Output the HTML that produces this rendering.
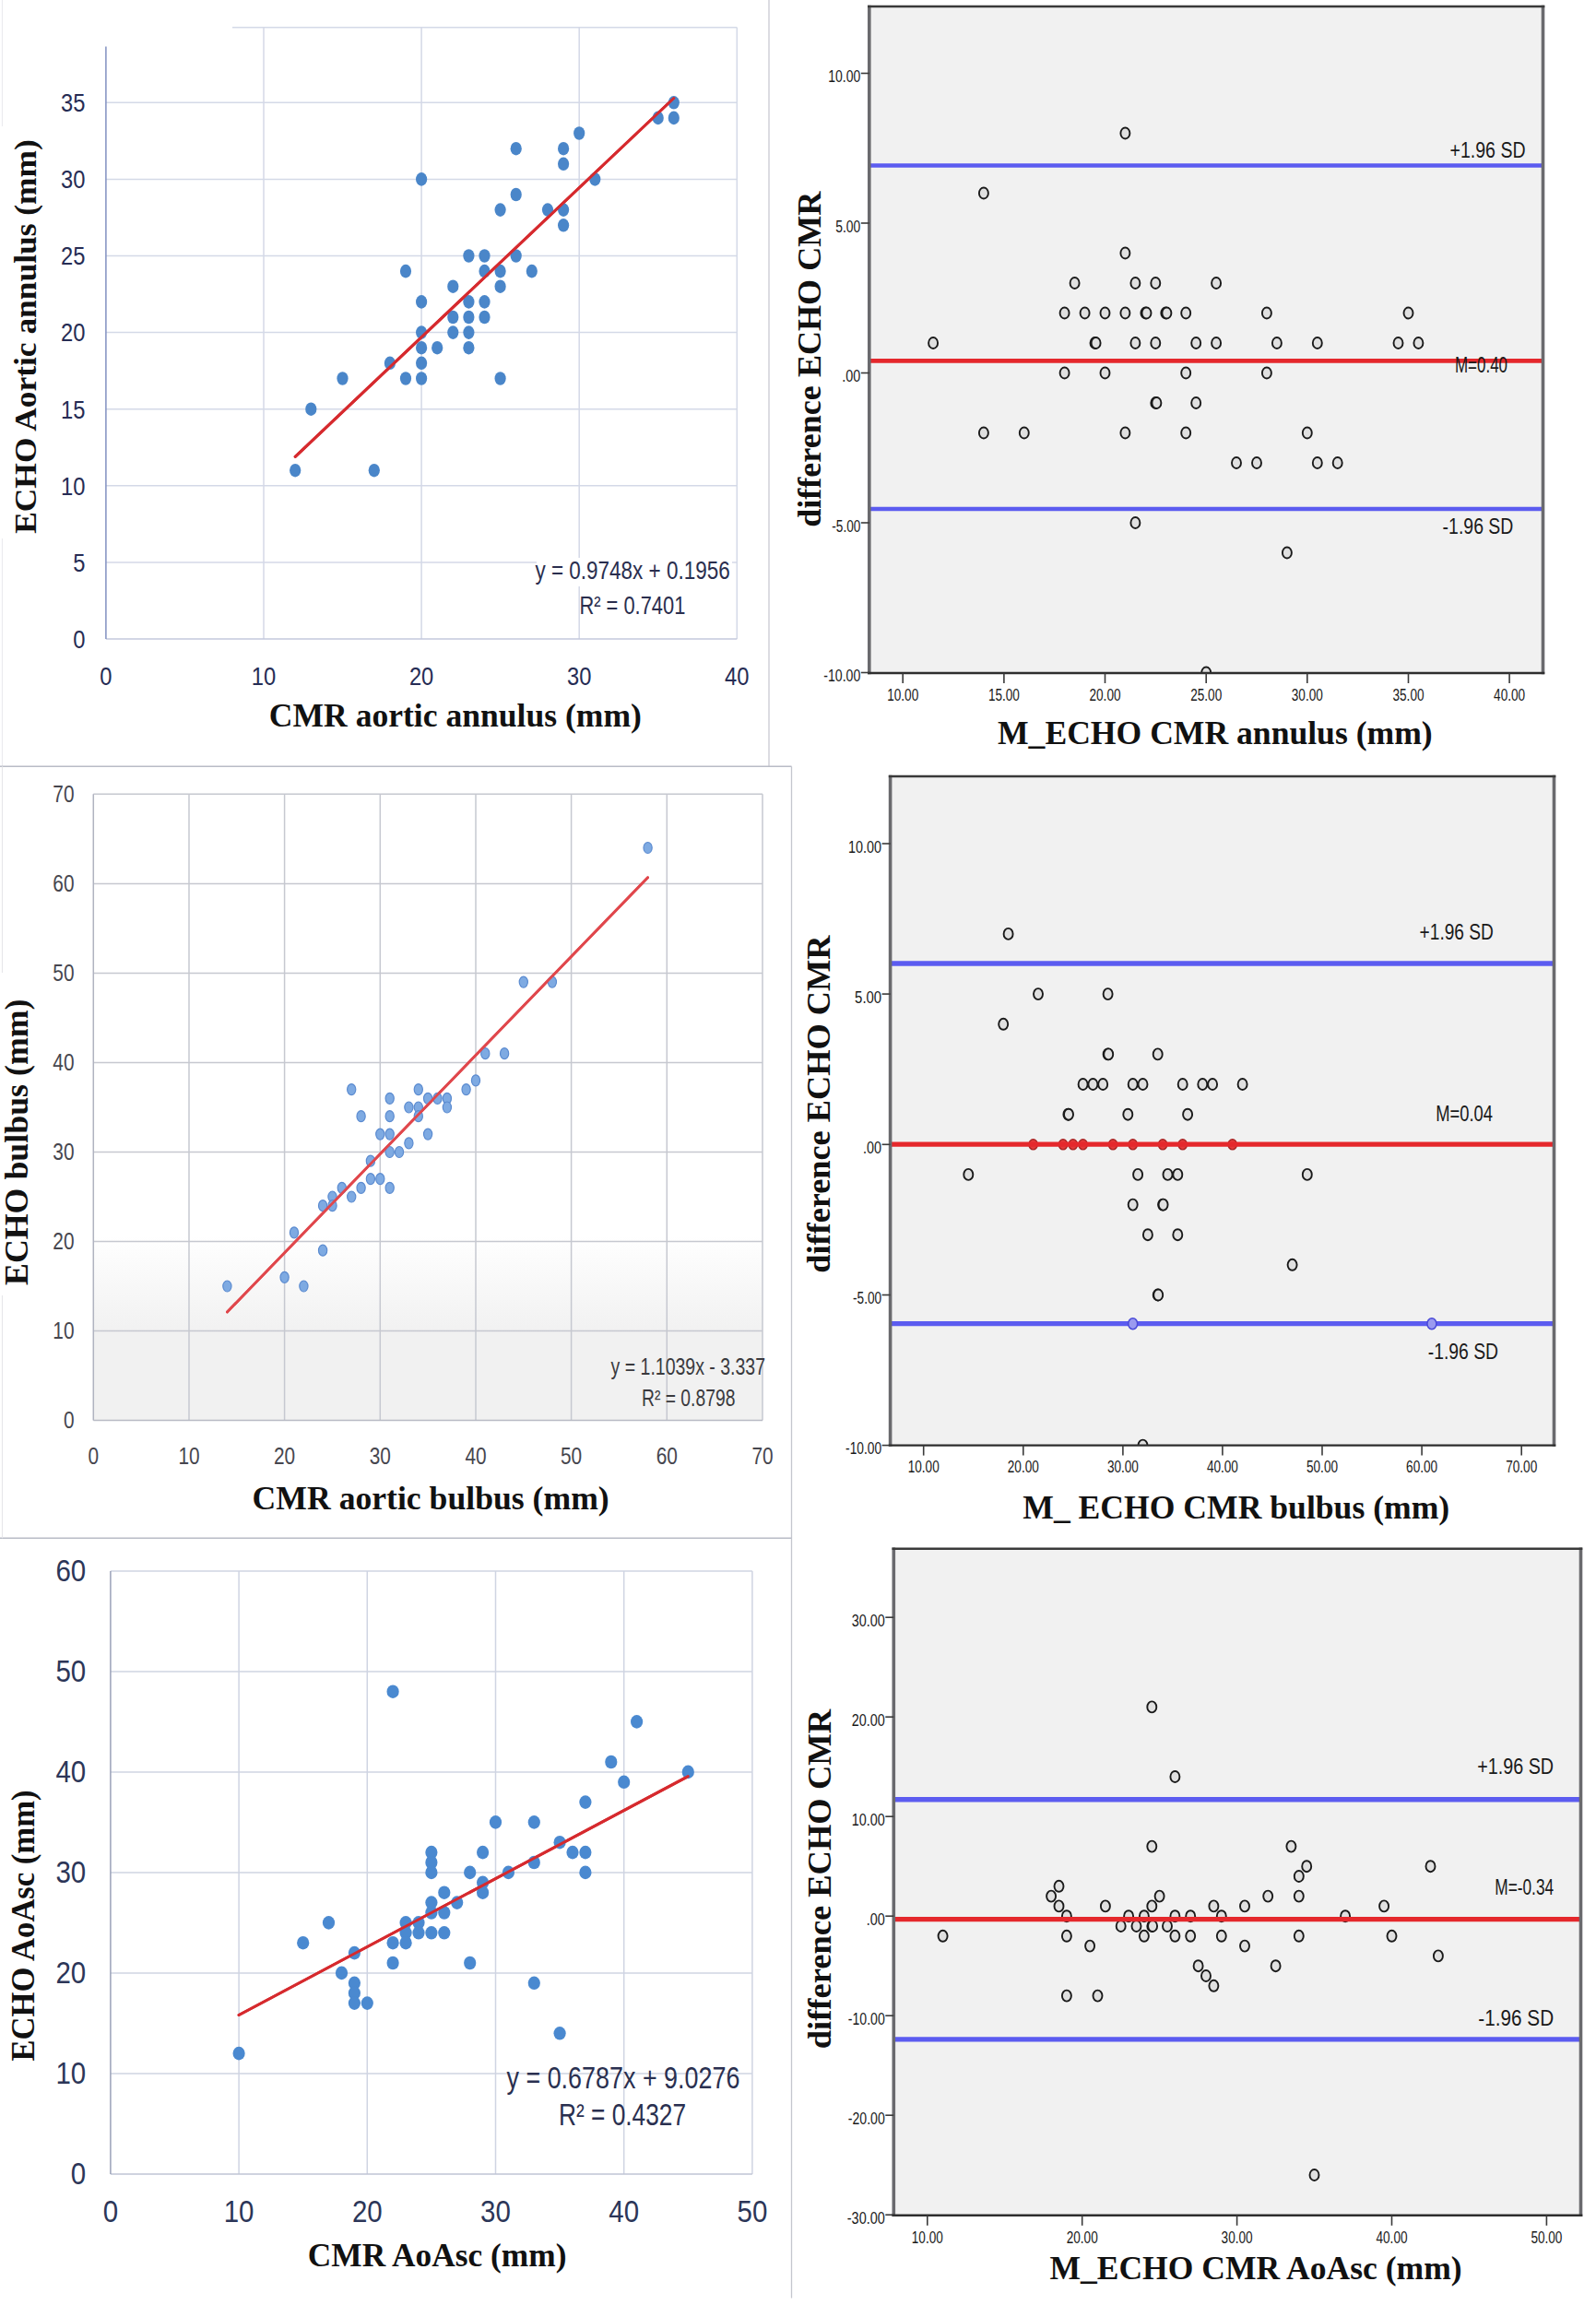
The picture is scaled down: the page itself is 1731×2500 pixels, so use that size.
<!DOCTYPE html>
<html lang="en"><head><meta charset="utf-8"><title>ECHO vs CMR aortic measurements</title>
<style>html,body{margin:0;padding:0;background:#fff;}svg{display:block;}</style></head>
<body>
<svg width="1731" height="2500" viewBox="0 0 1731 2500">
<rect x="0" y="0" width="1731" height="2500" fill="#ffffff"/>
<defs><linearGradient id="gC" gradientUnits="userSpaceOnUse" x1="0" y1="1340" x2="0" y2="1446"><stop offset="0" stop-color="#ffffff"/><stop offset="1" stop-color="#f1f1f1"/></linearGradient></defs>
<line x1="834" y1="0" x2="834" y2="831.3" stroke="#c9cad2" stroke-width="1.3"/>
<line x1="2.5" y1="0" x2="2.5" y2="137" stroke="#ebebef" stroke-width="1.2"/>
<line x1="2.5" y1="584" x2="2.5" y2="831" stroke="#ebebef" stroke-width="1.2"/>
<line x1="0" y1="831.3" x2="858.5" y2="831.3" stroke="#b9bcc6" stroke-width="1.6"/>
<line x1="858.5" y1="831.3" x2="858.5" y2="2492.5" stroke="#c4c6ce" stroke-width="1.3"/>
<line x1="0" y1="1668.3" x2="858.5" y2="1668.3" stroke="#b9bcc6" stroke-width="1.6"/>
<line x1="2.5" y1="831.3" x2="2.5" y2="1055" stroke="#e6e6ea" stroke-width="1.2"/>
<line x1="2.5" y1="1405" x2="2.5" y2="1668.3" stroke="#e6e6ea" stroke-width="1.2"/>
<line x1="114.9" y1="609.9" x2="799.3" y2="609.9" stroke="#d4d9e7" stroke-width="1.5"/>
<line x1="114.9" y1="526.8" x2="799.3" y2="526.8" stroke="#d4d9e7" stroke-width="1.5"/>
<line x1="114.9" y1="443.7" x2="799.3" y2="443.7" stroke="#d4d9e7" stroke-width="1.5"/>
<line x1="114.9" y1="360.6" x2="799.3" y2="360.6" stroke="#d4d9e7" stroke-width="1.5"/>
<line x1="114.9" y1="277.5" x2="799.3" y2="277.5" stroke="#d4d9e7" stroke-width="1.5"/>
<line x1="114.9" y1="194.4" x2="799.3" y2="194.4" stroke="#d4d9e7" stroke-width="1.5"/>
<line x1="114.9" y1="111.3" x2="799.3" y2="111.3" stroke="#d4d9e7" stroke-width="1.5"/>
<line x1="252" y1="29.7" x2="799.3" y2="29.7" stroke="#d4d9e7" stroke-width="1.5"/>
<line x1="286" y1="29.7" x2="286" y2="693" stroke="#d4d9e7" stroke-width="1.5"/>
<line x1="457.1" y1="29.7" x2="457.1" y2="693" stroke="#d4d9e7" stroke-width="1.5"/>
<line x1="628.2" y1="29.7" x2="628.2" y2="693" stroke="#d4d9e7" stroke-width="1.5"/>
<line x1="799.3" y1="29.7" x2="799.3" y2="693" stroke="#d4d9e7" stroke-width="1.5"/>
<line x1="114.9" y1="693" x2="799.3" y2="693" stroke="#c3c8dc" stroke-width="1.5"/>
<line x1="114.9" y1="50.4" x2="114.9" y2="693" stroke="#8190c0" stroke-width="1.5"/>
<text x="92.5" y="702.8" font-family="'Liberation Sans', Arial, sans-serif" font-size="27.5" fill="#262c54" text-anchor="end" font-weight="normal" textLength="13.2" lengthAdjust="spacingAndGlyphs">0</text>
<text x="92.5" y="619.7" font-family="'Liberation Sans', Arial, sans-serif" font-size="27.5" fill="#262c54" text-anchor="end" font-weight="normal" textLength="13.2" lengthAdjust="spacingAndGlyphs">5</text>
<text x="92.5" y="536.6" font-family="'Liberation Sans', Arial, sans-serif" font-size="27.5" fill="#262c54" text-anchor="end" font-weight="normal" textLength="26.4" lengthAdjust="spacingAndGlyphs">10</text>
<text x="92.5" y="453.5" font-family="'Liberation Sans', Arial, sans-serif" font-size="27.5" fill="#262c54" text-anchor="end" font-weight="normal" textLength="26.4" lengthAdjust="spacingAndGlyphs">15</text>
<text x="92.5" y="370.4" font-family="'Liberation Sans', Arial, sans-serif" font-size="27.5" fill="#262c54" text-anchor="end" font-weight="normal" textLength="26.4" lengthAdjust="spacingAndGlyphs">20</text>
<text x="92.5" y="287.3" font-family="'Liberation Sans', Arial, sans-serif" font-size="27.5" fill="#262c54" text-anchor="end" font-weight="normal" textLength="26.4" lengthAdjust="spacingAndGlyphs">25</text>
<text x="92.5" y="204.2" font-family="'Liberation Sans', Arial, sans-serif" font-size="27.5" fill="#262c54" text-anchor="end" font-weight="normal" textLength="26.4" lengthAdjust="spacingAndGlyphs">30</text>
<text x="92.5" y="121.1" font-family="'Liberation Sans', Arial, sans-serif" font-size="27.5" fill="#262c54" text-anchor="end" font-weight="normal" textLength="26.4" lengthAdjust="spacingAndGlyphs">35</text>
<text x="114.9" y="743.3" font-family="'Liberation Sans', Arial, sans-serif" font-size="27.5" fill="#262c54" text-anchor="middle" font-weight="normal" textLength="13.2" lengthAdjust="spacingAndGlyphs">0</text>
<text x="286" y="743.3" font-family="'Liberation Sans', Arial, sans-serif" font-size="27.5" fill="#262c54" text-anchor="middle" font-weight="normal" textLength="26.4" lengthAdjust="spacingAndGlyphs">10</text>
<text x="457.1" y="743.3" font-family="'Liberation Sans', Arial, sans-serif" font-size="27.5" fill="#262c54" text-anchor="middle" font-weight="normal" textLength="26.4" lengthAdjust="spacingAndGlyphs">20</text>
<text x="628.2" y="743.3" font-family="'Liberation Sans', Arial, sans-serif" font-size="27.5" fill="#262c54" text-anchor="middle" font-weight="normal" textLength="26.4" lengthAdjust="spacingAndGlyphs">30</text>
<text x="799.3" y="743.3" font-family="'Liberation Sans', Arial, sans-serif" font-size="27.5" fill="#262c54" text-anchor="middle" font-weight="normal" textLength="26.4" lengthAdjust="spacingAndGlyphs">40</text>
<line x1="320.2" y1="495.3" x2="730.8" y2="106.5" stroke="#d62a2e" stroke-width="3" stroke-linecap="round"/>
<ellipse cx="320.2" cy="510.2" rx="6.1" ry="7.3" fill="#4a86c9" stroke="none" stroke-width="0"/>
<ellipse cx="337.3" cy="443.7" rx="6.1" ry="7.3" fill="#4a86c9" stroke="none" stroke-width="0"/>
<ellipse cx="371.5" cy="410.5" rx="6.1" ry="7.3" fill="#4a86c9" stroke="none" stroke-width="0"/>
<ellipse cx="405.8" cy="510.2" rx="6.1" ry="7.3" fill="#4a86c9" stroke="none" stroke-width="0"/>
<ellipse cx="422.9" cy="393.8" rx="6.1" ry="7.3" fill="#4a86c9" stroke="none" stroke-width="0"/>
<ellipse cx="440" cy="410.5" rx="6.1" ry="7.3" fill="#4a86c9" stroke="none" stroke-width="0"/>
<ellipse cx="440" cy="294.1" rx="6.1" ry="7.3" fill="#4a86c9" stroke="none" stroke-width="0"/>
<ellipse cx="457.1" cy="194.4" rx="6.1" ry="7.3" fill="#4a86c9" stroke="none" stroke-width="0"/>
<ellipse cx="457.1" cy="327.4" rx="6.1" ry="7.3" fill="#4a86c9" stroke="none" stroke-width="0"/>
<ellipse cx="457.1" cy="360.6" rx="6.1" ry="7.3" fill="#4a86c9" stroke="none" stroke-width="0"/>
<ellipse cx="457.1" cy="377.2" rx="6.1" ry="7.3" fill="#4a86c9" stroke="none" stroke-width="0"/>
<ellipse cx="457.1" cy="393.8" rx="6.1" ry="7.3" fill="#4a86c9" stroke="none" stroke-width="0"/>
<ellipse cx="457.1" cy="410.5" rx="6.1" ry="7.3" fill="#4a86c9" stroke="none" stroke-width="0"/>
<ellipse cx="474.2" cy="377.2" rx="6.1" ry="7.3" fill="#4a86c9" stroke="none" stroke-width="0"/>
<ellipse cx="491.3" cy="310.7" rx="6.1" ry="7.3" fill="#4a86c9" stroke="none" stroke-width="0"/>
<ellipse cx="491.3" cy="344" rx="6.1" ry="7.3" fill="#4a86c9" stroke="none" stroke-width="0"/>
<ellipse cx="491.3" cy="360.6" rx="6.1" ry="7.3" fill="#4a86c9" stroke="none" stroke-width="0"/>
<ellipse cx="508.4" cy="277.5" rx="6.1" ry="7.3" fill="#4a86c9" stroke="none" stroke-width="0"/>
<ellipse cx="508.4" cy="327.4" rx="6.1" ry="7.3" fill="#4a86c9" stroke="none" stroke-width="0"/>
<ellipse cx="508.4" cy="344" rx="6.1" ry="7.3" fill="#4a86c9" stroke="none" stroke-width="0"/>
<ellipse cx="508.4" cy="360.6" rx="6.1" ry="7.3" fill="#4a86c9" stroke="none" stroke-width="0"/>
<ellipse cx="508.4" cy="377.2" rx="6.1" ry="7.3" fill="#4a86c9" stroke="none" stroke-width="0"/>
<ellipse cx="525.5" cy="277.5" rx="6.1" ry="7.3" fill="#4a86c9" stroke="none" stroke-width="0"/>
<ellipse cx="525.5" cy="294.1" rx="6.1" ry="7.3" fill="#4a86c9" stroke="none" stroke-width="0"/>
<ellipse cx="525.5" cy="327.4" rx="6.1" ry="7.3" fill="#4a86c9" stroke="none" stroke-width="0"/>
<ellipse cx="525.5" cy="344" rx="6.1" ry="7.3" fill="#4a86c9" stroke="none" stroke-width="0"/>
<ellipse cx="542.6" cy="227.6" rx="6.1" ry="7.3" fill="#4a86c9" stroke="none" stroke-width="0"/>
<ellipse cx="542.6" cy="294.1" rx="6.1" ry="7.3" fill="#4a86c9" stroke="none" stroke-width="0"/>
<ellipse cx="542.6" cy="310.7" rx="6.1" ry="7.3" fill="#4a86c9" stroke="none" stroke-width="0"/>
<ellipse cx="542.6" cy="410.5" rx="6.1" ry="7.3" fill="#4a86c9" stroke="none" stroke-width="0"/>
<ellipse cx="559.7" cy="161.2" rx="6.1" ry="7.3" fill="#4a86c9" stroke="none" stroke-width="0"/>
<ellipse cx="559.7" cy="211" rx="6.1" ry="7.3" fill="#4a86c9" stroke="none" stroke-width="0"/>
<ellipse cx="559.7" cy="277.5" rx="6.1" ry="7.3" fill="#4a86c9" stroke="none" stroke-width="0"/>
<ellipse cx="576.8" cy="294.1" rx="6.1" ry="7.3" fill="#4a86c9" stroke="none" stroke-width="0"/>
<ellipse cx="594" cy="227.6" rx="6.1" ry="7.3" fill="#4a86c9" stroke="none" stroke-width="0"/>
<ellipse cx="611.1" cy="161.2" rx="6.1" ry="7.3" fill="#4a86c9" stroke="none" stroke-width="0"/>
<ellipse cx="611.1" cy="177.8" rx="6.1" ry="7.3" fill="#4a86c9" stroke="none" stroke-width="0"/>
<ellipse cx="611.1" cy="227.6" rx="6.1" ry="7.3" fill="#4a86c9" stroke="none" stroke-width="0"/>
<ellipse cx="611.1" cy="244.3" rx="6.1" ry="7.3" fill="#4a86c9" stroke="none" stroke-width="0"/>
<ellipse cx="628.2" cy="144.5" rx="6.1" ry="7.3" fill="#4a86c9" stroke="none" stroke-width="0"/>
<ellipse cx="645.3" cy="194.4" rx="6.1" ry="7.3" fill="#4a86c9" stroke="none" stroke-width="0"/>
<ellipse cx="713.7" cy="127.9" rx="6.1" ry="7.3" fill="#4a86c9" stroke="none" stroke-width="0"/>
<ellipse cx="730.8" cy="111.3" rx="6.1" ry="7.3" fill="#4a86c9" stroke="none" stroke-width="0"/>
<ellipse cx="730.8" cy="127.9" rx="6.1" ry="7.3" fill="#4a86c9" stroke="none" stroke-width="0"/>
<line x1="320.2" y1="495.3" x2="730.8" y2="106.5" stroke="#d62a2e" stroke-width="3" stroke-linecap="round"/>
<rect x="582" y="605" width="212" height="31" fill="#fff"/>
<text x="580.4" y="628.3" font-family="'Liberation Sans', Arial, sans-serif" font-size="27" fill="#2a2e4e" text-anchor="start" font-weight="normal" textLength="211.3" lengthAdjust="spacingAndGlyphs">y = 0.9748x + 0.1956</text>
<text x="628.4" y="665.8" font-family="'Liberation Sans', Arial, sans-serif" font-size="27" fill="#2a2e4e" text-anchor="start" font-weight="normal" textLength="114.9" lengthAdjust="spacingAndGlyphs">R² = 0.7401</text>
<text x="291.8" y="788.3" font-family="'Liberation Serif', 'Times New Roman', serif" font-size="35.5" fill="#111" text-anchor="start" font-weight="bold" textLength="404.1" lengthAdjust="spacingAndGlyphs">CMR aortic annulus (mm)</text>
<text transform="translate(38.7 578.8) rotate(-90)" x="0" y="0" font-family="'Liberation Serif', 'Times New Roman', serif" font-size="34" fill="#111" font-weight="bold" textLength="427.6" lengthAdjust="spacingAndGlyphs">ECHO Aortic annulus (mm)</text>
<rect x="942.8" y="7" width="730.7" height="723" fill="#f1f1f1" stroke="none"/>
<clipPath id="cB"><rect x="942.8" y="7" width="730.7" height="723"/></clipPath>
<g clip-path="url(#cB)">
<ellipse cx="1220.4" cy="144.5" rx="5" ry="6" fill="#e0e0e0" stroke="#1a1a1a" stroke-width="1.9"/>
<ellipse cx="1066.9" cy="209.5" rx="5" ry="6" fill="#e0e0e0" stroke="#1a1a1a" stroke-width="1.9"/>
<ellipse cx="1220.4" cy="274.5" rx="5" ry="6" fill="#e0e0e0" stroke="#1a1a1a" stroke-width="1.9"/>
<ellipse cx="1165.6" cy="307" rx="5" ry="6" fill="#e0e0e0" stroke="#1a1a1a" stroke-width="1.9"/>
<ellipse cx="1231.4" cy="307" rx="5" ry="6" fill="#e0e0e0" stroke="#1a1a1a" stroke-width="1.9"/>
<ellipse cx="1253.3" cy="307" rx="5" ry="6" fill="#e0e0e0" stroke="#1a1a1a" stroke-width="1.9"/>
<ellipse cx="1319.1" cy="307" rx="5" ry="6" fill="#e0e0e0" stroke="#1a1a1a" stroke-width="1.9"/>
<ellipse cx="1154.6" cy="339.5" rx="5" ry="6" fill="#e0e0e0" stroke="#1a1a1a" stroke-width="1.9"/>
<ellipse cx="1176.6" cy="339.5" rx="5" ry="6" fill="#e0e0e0" stroke="#1a1a1a" stroke-width="1.9"/>
<ellipse cx="1198.5" cy="339.5" rx="5" ry="6" fill="#e0e0e0" stroke="#1a1a1a" stroke-width="1.9"/>
<ellipse cx="1220.4" cy="339.5" rx="5" ry="6" fill="#e0e0e0" stroke="#1a1a1a" stroke-width="1.9"/>
<ellipse cx="1242.4" cy="339.5" rx="5" ry="6" fill="#e0e0e0" stroke="#1a1a1a" stroke-width="1.9"/>
<ellipse cx="1243.5" cy="339.5" rx="5" ry="6" fill="#e0e0e0" stroke="#1a1a1a" stroke-width="1.9"/>
<ellipse cx="1264.3" cy="339.5" rx="5" ry="6" fill="#e0e0e0" stroke="#1a1a1a" stroke-width="1.9"/>
<ellipse cx="1265.4" cy="339.5" rx="5" ry="6" fill="#e0e0e0" stroke="#1a1a1a" stroke-width="1.9"/>
<ellipse cx="1286.2" cy="339.5" rx="5" ry="6" fill="#e0e0e0" stroke="#1a1a1a" stroke-width="1.9"/>
<ellipse cx="1373.9" cy="339.5" rx="5" ry="6" fill="#e0e0e0" stroke="#1a1a1a" stroke-width="1.9"/>
<ellipse cx="1527.5" cy="339.5" rx="5" ry="6" fill="#e0e0e0" stroke="#1a1a1a" stroke-width="1.9"/>
<ellipse cx="1012.1" cy="372" rx="5" ry="6" fill="#e0e0e0" stroke="#1a1a1a" stroke-width="1.9"/>
<ellipse cx="1187.5" cy="372" rx="5" ry="6" fill="#e0e0e0" stroke="#1a1a1a" stroke-width="1.9"/>
<ellipse cx="1188.6" cy="372" rx="5" ry="6" fill="#e0e0e0" stroke="#1a1a1a" stroke-width="1.9"/>
<ellipse cx="1231.4" cy="372" rx="5" ry="6" fill="#e0e0e0" stroke="#1a1a1a" stroke-width="1.9"/>
<ellipse cx="1253.3" cy="372" rx="5" ry="6" fill="#e0e0e0" stroke="#1a1a1a" stroke-width="1.9"/>
<ellipse cx="1297.2" cy="372" rx="5" ry="6" fill="#e0e0e0" stroke="#1a1a1a" stroke-width="1.9"/>
<ellipse cx="1319.1" cy="372" rx="5" ry="6" fill="#e0e0e0" stroke="#1a1a1a" stroke-width="1.9"/>
<ellipse cx="1384.9" cy="372" rx="5" ry="6" fill="#e0e0e0" stroke="#1a1a1a" stroke-width="1.9"/>
<ellipse cx="1428.8" cy="372" rx="5" ry="6" fill="#e0e0e0" stroke="#1a1a1a" stroke-width="1.9"/>
<ellipse cx="1516.5" cy="372" rx="5" ry="6" fill="#e0e0e0" stroke="#1a1a1a" stroke-width="1.9"/>
<ellipse cx="1538.4" cy="372" rx="5" ry="6" fill="#e0e0e0" stroke="#1a1a1a" stroke-width="1.9"/>
<ellipse cx="1154.6" cy="404.5" rx="5" ry="6" fill="#e0e0e0" stroke="#1a1a1a" stroke-width="1.9"/>
<ellipse cx="1198.5" cy="404.5" rx="5" ry="6" fill="#e0e0e0" stroke="#1a1a1a" stroke-width="1.9"/>
<ellipse cx="1286.2" cy="404.5" rx="5" ry="6" fill="#e0e0e0" stroke="#1a1a1a" stroke-width="1.9"/>
<ellipse cx="1373.9" cy="404.5" rx="5" ry="6" fill="#e0e0e0" stroke="#1a1a1a" stroke-width="1.9"/>
<ellipse cx="1253.3" cy="437" rx="5" ry="6" fill="#e0e0e0" stroke="#1a1a1a" stroke-width="1.9"/>
<ellipse cx="1254.4" cy="437" rx="5" ry="6" fill="#e0e0e0" stroke="#1a1a1a" stroke-width="1.9"/>
<ellipse cx="1297.2" cy="437" rx="5" ry="6" fill="#e0e0e0" stroke="#1a1a1a" stroke-width="1.9"/>
<ellipse cx="1066.9" cy="469.5" rx="5" ry="6" fill="#e0e0e0" stroke="#1a1a1a" stroke-width="1.9"/>
<ellipse cx="1110.8" cy="469.5" rx="5" ry="6" fill="#e0e0e0" stroke="#1a1a1a" stroke-width="1.9"/>
<ellipse cx="1220.4" cy="469.5" rx="5" ry="6" fill="#e0e0e0" stroke="#1a1a1a" stroke-width="1.9"/>
<ellipse cx="1286.2" cy="469.5" rx="5" ry="6" fill="#e0e0e0" stroke="#1a1a1a" stroke-width="1.9"/>
<ellipse cx="1417.8" cy="469.5" rx="5" ry="6" fill="#e0e0e0" stroke="#1a1a1a" stroke-width="1.9"/>
<ellipse cx="1341" cy="502" rx="5" ry="6" fill="#e0e0e0" stroke="#1a1a1a" stroke-width="1.9"/>
<ellipse cx="1363" cy="502" rx="5" ry="6" fill="#e0e0e0" stroke="#1a1a1a" stroke-width="1.9"/>
<ellipse cx="1428.8" cy="502" rx="5" ry="6" fill="#e0e0e0" stroke="#1a1a1a" stroke-width="1.9"/>
<ellipse cx="1450.7" cy="502" rx="5" ry="6" fill="#e0e0e0" stroke="#1a1a1a" stroke-width="1.9"/>
<ellipse cx="1231.4" cy="567" rx="5" ry="6" fill="#e0e0e0" stroke="#1a1a1a" stroke-width="1.9"/>
<ellipse cx="1395.9" cy="599.5" rx="5" ry="6" fill="#e0e0e0" stroke="#1a1a1a" stroke-width="1.9"/>
<ellipse cx="1308.2" cy="729.5" rx="5" ry="6" fill="#e0e0e0" stroke="#1a1a1a" stroke-width="1.9"/>
<line x1="942.8" y1="179.5" x2="1673.5" y2="179.5" stroke="#5c5cf0" stroke-width="4.7"/>
<line x1="942.8" y1="391.4" x2="1673.5" y2="391.4" stroke="#e5282c" stroke-width="4.7"/>
<line x1="942.8" y1="552" x2="1673.5" y2="552" stroke="#5c5cf0" stroke-width="4.7"/>
</g>
<line x1="942.8" y1="5.8" x2="942.8" y2="731.2" stroke="#6a6a6e" stroke-width="3.6"/>
<line x1="1673.5" y1="5.8" x2="1673.5" y2="731.2" stroke="#6a6a6e" stroke-width="3.6"/>
<line x1="941" y1="7" x2="1675.3" y2="7" stroke="#3a3a3a" stroke-width="2.4"/>
<line x1="941" y1="730" x2="1675.3" y2="730" stroke="#2e2e2e" stroke-width="2.4"/>
<line x1="933.8" y1="79.5" x2="942.8" y2="79.5" stroke="#3a3a3a" stroke-width="1.6"/>
<text x="933.3" y="89.1" font-family="'Liberation Sans', Arial, sans-serif" font-size="17.5" fill="#1a1a1a" text-anchor="end" font-weight="normal" textLength="35" lengthAdjust="spacingAndGlyphs">10.00</text>
<line x1="933.8" y1="242" x2="942.8" y2="242" stroke="#3a3a3a" stroke-width="1.6"/>
<text x="933.3" y="251.6" font-family="'Liberation Sans', Arial, sans-serif" font-size="17.5" fill="#1a1a1a" text-anchor="end" font-weight="normal" textLength="27" lengthAdjust="spacingAndGlyphs">5.00</text>
<line x1="933.8" y1="404.5" x2="942.8" y2="404.5" stroke="#3a3a3a" stroke-width="1.6"/>
<text x="933.3" y="414.1" font-family="'Liberation Sans', Arial, sans-serif" font-size="17.5" fill="#1a1a1a" text-anchor="end" font-weight="normal" textLength="20" lengthAdjust="spacingAndGlyphs">.00</text>
<line x1="933.8" y1="567" x2="942.8" y2="567" stroke="#3a3a3a" stroke-width="1.6"/>
<text x="933.3" y="576.6" font-family="'Liberation Sans', Arial, sans-serif" font-size="17.5" fill="#1a1a1a" text-anchor="end" font-weight="normal" textLength="31" lengthAdjust="spacingAndGlyphs">-5.00</text>
<line x1="933.8" y1="729.5" x2="942.8" y2="729.5" stroke="#3a3a3a" stroke-width="1.6"/>
<text x="933.3" y="739.1" font-family="'Liberation Sans', Arial, sans-serif" font-size="17.5" fill="#1a1a1a" text-anchor="end" font-weight="normal" textLength="40" lengthAdjust="spacingAndGlyphs">-10.00</text>
<line x1="979.2" y1="730" x2="979.2" y2="741" stroke="#3a3a3a" stroke-width="1.6"/>
<text x="979.2" y="759.8" font-family="'Liberation Sans', Arial, sans-serif" font-size="17.5" fill="#1a1a1a" text-anchor="middle" font-weight="normal" textLength="34" lengthAdjust="spacingAndGlyphs">10.00</text>
<line x1="1088.9" y1="730" x2="1088.9" y2="741" stroke="#3a3a3a" stroke-width="1.6"/>
<text x="1088.9" y="759.8" font-family="'Liberation Sans', Arial, sans-serif" font-size="17.5" fill="#1a1a1a" text-anchor="middle" font-weight="normal" textLength="34" lengthAdjust="spacingAndGlyphs">15.00</text>
<line x1="1198.5" y1="730" x2="1198.5" y2="741" stroke="#3a3a3a" stroke-width="1.6"/>
<text x="1198.5" y="759.8" font-family="'Liberation Sans', Arial, sans-serif" font-size="17.5" fill="#1a1a1a" text-anchor="middle" font-weight="normal" textLength="34" lengthAdjust="spacingAndGlyphs">20.00</text>
<line x1="1308.2" y1="730" x2="1308.2" y2="741" stroke="#3a3a3a" stroke-width="1.6"/>
<text x="1308.2" y="759.8" font-family="'Liberation Sans', Arial, sans-serif" font-size="17.5" fill="#1a1a1a" text-anchor="middle" font-weight="normal" textLength="34" lengthAdjust="spacingAndGlyphs">25.00</text>
<line x1="1417.8" y1="730" x2="1417.8" y2="741" stroke="#3a3a3a" stroke-width="1.6"/>
<text x="1417.8" y="759.8" font-family="'Liberation Sans', Arial, sans-serif" font-size="17.5" fill="#1a1a1a" text-anchor="middle" font-weight="normal" textLength="34" lengthAdjust="spacingAndGlyphs">30.00</text>
<line x1="1527.5" y1="730" x2="1527.5" y2="741" stroke="#3a3a3a" stroke-width="1.6"/>
<text x="1527.5" y="759.8" font-family="'Liberation Sans', Arial, sans-serif" font-size="17.5" fill="#1a1a1a" text-anchor="middle" font-weight="normal" textLength="34" lengthAdjust="spacingAndGlyphs">35.00</text>
<line x1="1637.1" y1="730" x2="1637.1" y2="741" stroke="#3a3a3a" stroke-width="1.6"/>
<text x="1637.1" y="759.8" font-family="'Liberation Sans', Arial, sans-serif" font-size="17.5" fill="#1a1a1a" text-anchor="middle" font-weight="normal" textLength="34" lengthAdjust="spacingAndGlyphs">40.00</text>
<text x="1572.5" y="170.7" font-family="'Liberation Sans', Arial, sans-serif" font-size="24.5" fill="#1a1a1a" text-anchor="start" font-weight="normal" textLength="82.1" lengthAdjust="spacingAndGlyphs">+1.96 SD</text>
<text x="1578" y="404.1" font-family="'Liberation Sans', Arial, sans-serif" font-size="24.5" fill="#1a1a1a" text-anchor="start" font-weight="normal" textLength="57" lengthAdjust="spacingAndGlyphs">M=0.40</text>
<text x="1564.6" y="579.2" font-family="'Liberation Sans', Arial, sans-serif" font-size="24.5" fill="#1a1a1a" text-anchor="start" font-weight="normal" textLength="76.8" lengthAdjust="spacingAndGlyphs">-1.96 SD</text>
<text x="1082" y="807.3" font-family="'Liberation Serif', 'Times New Roman', serif" font-size="35.5" fill="#111" text-anchor="start" font-weight="bold" textLength="471.7" lengthAdjust="spacingAndGlyphs">M_ECHO CMR annulus (mm)</text>
<text transform="translate(890.4 571.8) rotate(-90)" x="0" y="0" font-family="'Liberation Serif', 'Times New Roman', serif" font-size="35" fill="#111" font-weight="bold" textLength="364.2" lengthAdjust="spacingAndGlyphs">difference ECHO CMR</text>
<rect x="101.3" y="861.3" width="725.7" height="679.3" fill="url(#gC)"/>
<line x1="101.3" y1="1443.6" x2="827" y2="1443.6" stroke="#c6c8d0" stroke-width="1.5"/>
<line x1="101.3" y1="1346.5" x2="827" y2="1346.5" stroke="#c6c8d0" stroke-width="1.5"/>
<line x1="101.3" y1="1249.5" x2="827" y2="1249.5" stroke="#c6c8d0" stroke-width="1.5"/>
<line x1="101.3" y1="1152.4" x2="827" y2="1152.4" stroke="#c6c8d0" stroke-width="1.5"/>
<line x1="101.3" y1="1055.4" x2="827" y2="1055.4" stroke="#c6c8d0" stroke-width="1.5"/>
<line x1="101.3" y1="958.4" x2="827" y2="958.4" stroke="#c6c8d0" stroke-width="1.5"/>
<line x1="101.3" y1="861.3" x2="827" y2="861.3" stroke="#c6c8d0" stroke-width="1.5"/>
<line x1="205" y1="861.3" x2="205" y2="1540.6" stroke="#c6c8d0" stroke-width="1.5"/>
<line x1="308.6" y1="861.3" x2="308.6" y2="1540.6" stroke="#c6c8d0" stroke-width="1.5"/>
<line x1="412.3" y1="861.3" x2="412.3" y2="1540.6" stroke="#c6c8d0" stroke-width="1.5"/>
<line x1="516" y1="861.3" x2="516" y2="1540.6" stroke="#c6c8d0" stroke-width="1.5"/>
<line x1="619.6" y1="861.3" x2="619.6" y2="1540.6" stroke="#c6c8d0" stroke-width="1.5"/>
<line x1="723.3" y1="861.3" x2="723.3" y2="1540.6" stroke="#c6c8d0" stroke-width="1.5"/>
<line x1="827" y1="861.3" x2="827" y2="1540.6" stroke="#c6c8d0" stroke-width="1.5"/>
<line x1="101.3" y1="1540.6" x2="827" y2="1540.6" stroke="#b8bac4" stroke-width="1.5"/>
<line x1="101.3" y1="861.3" x2="101.3" y2="1540.6" stroke="#b0b3c0" stroke-width="1.5"/>
<text x="80.5" y="1549.2" font-family="'Liberation Sans', Arial, sans-serif" font-size="25.5" fill="#46464e" text-anchor="end" font-weight="normal" textLength="11.6" lengthAdjust="spacingAndGlyphs">0</text>
<text x="80.5" y="1452.2" font-family="'Liberation Sans', Arial, sans-serif" font-size="25.5" fill="#46464e" text-anchor="end" font-weight="normal" textLength="23.2" lengthAdjust="spacingAndGlyphs">10</text>
<text x="80.5" y="1355.1" font-family="'Liberation Sans', Arial, sans-serif" font-size="25.5" fill="#46464e" text-anchor="end" font-weight="normal" textLength="23.2" lengthAdjust="spacingAndGlyphs">20</text>
<text x="80.5" y="1258.1" font-family="'Liberation Sans', Arial, sans-serif" font-size="25.5" fill="#46464e" text-anchor="end" font-weight="normal" textLength="23.2" lengthAdjust="spacingAndGlyphs">30</text>
<text x="80.5" y="1161" font-family="'Liberation Sans', Arial, sans-serif" font-size="25.5" fill="#46464e" text-anchor="end" font-weight="normal" textLength="23.2" lengthAdjust="spacingAndGlyphs">40</text>
<text x="80.5" y="1064" font-family="'Liberation Sans', Arial, sans-serif" font-size="25.5" fill="#46464e" text-anchor="end" font-weight="normal" textLength="23.2" lengthAdjust="spacingAndGlyphs">50</text>
<text x="80.5" y="967" font-family="'Liberation Sans', Arial, sans-serif" font-size="25.5" fill="#46464e" text-anchor="end" font-weight="normal" textLength="23.2" lengthAdjust="spacingAndGlyphs">60</text>
<text x="80.5" y="869.9" font-family="'Liberation Sans', Arial, sans-serif" font-size="25.5" fill="#46464e" text-anchor="end" font-weight="normal" textLength="23.2" lengthAdjust="spacingAndGlyphs">70</text>
<text x="101.3" y="1587.8" font-family="'Liberation Sans', Arial, sans-serif" font-size="25.5" fill="#46464e" text-anchor="middle" font-weight="normal" textLength="11.6" lengthAdjust="spacingAndGlyphs">0</text>
<text x="205" y="1587.8" font-family="'Liberation Sans', Arial, sans-serif" font-size="25.5" fill="#46464e" text-anchor="middle" font-weight="normal" textLength="23.2" lengthAdjust="spacingAndGlyphs">10</text>
<text x="308.6" y="1587.8" font-family="'Liberation Sans', Arial, sans-serif" font-size="25.5" fill="#46464e" text-anchor="middle" font-weight="normal" textLength="23.2" lengthAdjust="spacingAndGlyphs">20</text>
<text x="412.3" y="1587.8" font-family="'Liberation Sans', Arial, sans-serif" font-size="25.5" fill="#46464e" text-anchor="middle" font-weight="normal" textLength="23.2" lengthAdjust="spacingAndGlyphs">30</text>
<text x="516" y="1587.8" font-family="'Liberation Sans', Arial, sans-serif" font-size="25.5" fill="#46464e" text-anchor="middle" font-weight="normal" textLength="23.2" lengthAdjust="spacingAndGlyphs">40</text>
<text x="619.6" y="1587.8" font-family="'Liberation Sans', Arial, sans-serif" font-size="25.5" fill="#46464e" text-anchor="middle" font-weight="normal" textLength="23.2" lengthAdjust="spacingAndGlyphs">50</text>
<text x="723.3" y="1587.8" font-family="'Liberation Sans', Arial, sans-serif" font-size="25.5" fill="#46464e" text-anchor="middle" font-weight="normal" textLength="23.2" lengthAdjust="spacingAndGlyphs">60</text>
<text x="827" y="1587.8" font-family="'Liberation Sans', Arial, sans-serif" font-size="25.5" fill="#46464e" text-anchor="middle" font-weight="normal" textLength="23.2" lengthAdjust="spacingAndGlyphs">70</text>
<line x1="246.4" y1="1423" x2="702.6" y2="951.7" stroke="#e0474c" stroke-width="2.8" stroke-linecap="round"/>
<ellipse cx="246.4" cy="1395" rx="4.6" ry="6" fill="#7eaae2" stroke="#5b8bd0" stroke-width="1.2"/>
<ellipse cx="308.6" cy="1385.3" rx="4.6" ry="6" fill="#7eaae2" stroke="#5b8bd0" stroke-width="1.2"/>
<ellipse cx="319" cy="1336.8" rx="4.6" ry="6" fill="#7eaae2" stroke="#5b8bd0" stroke-width="1.2"/>
<ellipse cx="329.4" cy="1395" rx="4.6" ry="6" fill="#7eaae2" stroke="#5b8bd0" stroke-width="1.2"/>
<ellipse cx="350.1" cy="1307.7" rx="4.6" ry="6" fill="#7eaae2" stroke="#5b8bd0" stroke-width="1.2"/>
<ellipse cx="350.1" cy="1356.2" rx="4.6" ry="6" fill="#7eaae2" stroke="#5b8bd0" stroke-width="1.2"/>
<ellipse cx="360.5" cy="1298" rx="4.6" ry="6" fill="#7eaae2" stroke="#5b8bd0" stroke-width="1.2"/>
<ellipse cx="360.5" cy="1307.7" rx="4.6" ry="6" fill="#7eaae2" stroke="#5b8bd0" stroke-width="1.2"/>
<ellipse cx="370.8" cy="1288.3" rx="4.6" ry="6" fill="#7eaae2" stroke="#5b8bd0" stroke-width="1.2"/>
<ellipse cx="381.2" cy="1181.6" rx="4.6" ry="6" fill="#7eaae2" stroke="#5b8bd0" stroke-width="1.2"/>
<ellipse cx="381.2" cy="1298" rx="4.6" ry="6" fill="#7eaae2" stroke="#5b8bd0" stroke-width="1.2"/>
<ellipse cx="391.6" cy="1210.7" rx="4.6" ry="6" fill="#7eaae2" stroke="#5b8bd0" stroke-width="1.2"/>
<ellipse cx="391.6" cy="1288.3" rx="4.6" ry="6" fill="#7eaae2" stroke="#5b8bd0" stroke-width="1.2"/>
<ellipse cx="401.9" cy="1259.2" rx="4.6" ry="6" fill="#7eaae2" stroke="#5b8bd0" stroke-width="1.2"/>
<ellipse cx="401.9" cy="1278.6" rx="4.6" ry="6" fill="#7eaae2" stroke="#5b8bd0" stroke-width="1.2"/>
<ellipse cx="412.3" cy="1230.1" rx="4.6" ry="6" fill="#7eaae2" stroke="#5b8bd0" stroke-width="1.2"/>
<ellipse cx="412.3" cy="1278.6" rx="4.6" ry="6" fill="#7eaae2" stroke="#5b8bd0" stroke-width="1.2"/>
<ellipse cx="422.7" cy="1191.3" rx="4.6" ry="6" fill="#7eaae2" stroke="#5b8bd0" stroke-width="1.2"/>
<ellipse cx="422.7" cy="1210.7" rx="4.6" ry="6" fill="#7eaae2" stroke="#5b8bd0" stroke-width="1.2"/>
<ellipse cx="422.7" cy="1230.1" rx="4.6" ry="6" fill="#7eaae2" stroke="#5b8bd0" stroke-width="1.2"/>
<ellipse cx="422.7" cy="1249.5" rx="4.6" ry="6" fill="#7eaae2" stroke="#5b8bd0" stroke-width="1.2"/>
<ellipse cx="422.7" cy="1288.3" rx="4.6" ry="6" fill="#7eaae2" stroke="#5b8bd0" stroke-width="1.2"/>
<ellipse cx="433" cy="1249.5" rx="4.6" ry="6" fill="#7eaae2" stroke="#5b8bd0" stroke-width="1.2"/>
<ellipse cx="443.4" cy="1201" rx="4.6" ry="6" fill="#7eaae2" stroke="#5b8bd0" stroke-width="1.2"/>
<ellipse cx="443.4" cy="1239.8" rx="4.6" ry="6" fill="#7eaae2" stroke="#5b8bd0" stroke-width="1.2"/>
<ellipse cx="453.8" cy="1181.6" rx="4.6" ry="6" fill="#7eaae2" stroke="#5b8bd0" stroke-width="1.2"/>
<ellipse cx="453.8" cy="1201" rx="4.6" ry="6" fill="#7eaae2" stroke="#5b8bd0" stroke-width="1.2"/>
<ellipse cx="453.8" cy="1210.7" rx="4.6" ry="6" fill="#7eaae2" stroke="#5b8bd0" stroke-width="1.2"/>
<ellipse cx="464.1" cy="1191.3" rx="4.6" ry="6" fill="#7eaae2" stroke="#5b8bd0" stroke-width="1.2"/>
<ellipse cx="464.1" cy="1230.1" rx="4.6" ry="6" fill="#7eaae2" stroke="#5b8bd0" stroke-width="1.2"/>
<ellipse cx="474.5" cy="1191.3" rx="4.6" ry="6" fill="#7eaae2" stroke="#5b8bd0" stroke-width="1.2"/>
<ellipse cx="484.9" cy="1191.3" rx="4.6" ry="6" fill="#7eaae2" stroke="#5b8bd0" stroke-width="1.2"/>
<ellipse cx="484.9" cy="1201" rx="4.6" ry="6" fill="#7eaae2" stroke="#5b8bd0" stroke-width="1.2"/>
<ellipse cx="505.6" cy="1181.6" rx="4.6" ry="6" fill="#7eaae2" stroke="#5b8bd0" stroke-width="1.2"/>
<ellipse cx="516" cy="1171.8" rx="4.6" ry="6" fill="#7eaae2" stroke="#5b8bd0" stroke-width="1.2"/>
<ellipse cx="526.3" cy="1142.7" rx="4.6" ry="6" fill="#7eaae2" stroke="#5b8bd0" stroke-width="1.2"/>
<ellipse cx="547.1" cy="1142.7" rx="4.6" ry="6" fill="#7eaae2" stroke="#5b8bd0" stroke-width="1.2"/>
<ellipse cx="567.8" cy="1065.1" rx="4.6" ry="6" fill="#7eaae2" stroke="#5b8bd0" stroke-width="1.2"/>
<ellipse cx="598.9" cy="1065.1" rx="4.6" ry="6" fill="#7eaae2" stroke="#5b8bd0" stroke-width="1.2"/>
<ellipse cx="702.6" cy="919.5" rx="4.6" ry="6" fill="#7eaae2" stroke="#5b8bd0" stroke-width="1.2"/>
<line x1="246.4" y1="1423" x2="702.6" y2="951.7" stroke="#e0474c" stroke-width="2.8" stroke-linecap="round"/>
<text x="662.6" y="1490.9" font-family="'Liberation Sans', Arial, sans-serif" font-size="26" fill="#3a3a3e" text-anchor="start" font-weight="normal" textLength="167.4" lengthAdjust="spacingAndGlyphs">y = 1.1039x - 3.337</text>
<text x="696" y="1524.9" font-family="'Liberation Sans', Arial, sans-serif" font-size="26" fill="#3a3a3e" text-anchor="start" font-weight="normal" textLength="101.4" lengthAdjust="spacingAndGlyphs">R² = 0.8798</text>
<text x="273.6" y="1636.8" font-family="'Liberation Serif', 'Times New Roman', serif" font-size="35.5" fill="#111" text-anchor="start" font-weight="bold" textLength="387.1" lengthAdjust="spacingAndGlyphs">CMR aortic bulbus (mm)</text>
<text transform="translate(30.3 1394) rotate(-90)" x="0" y="0" font-family="'Liberation Serif', 'Times New Roman', serif" font-size="35" fill="#111" font-weight="bold" textLength="310.5" lengthAdjust="spacingAndGlyphs">ECHO bulbus (mm)</text>
<rect x="965.6" y="842" width="719.9" height="725.6" fill="#f1f1f1" stroke="none"/>
<clipPath id="cD"><rect x="965.6" y="842" width="719.9" height="725.6"/></clipPath>
<g clip-path="url(#cD)">
<ellipse cx="1093.6" cy="1012.9" rx="5" ry="6" fill="#e0e0e0" stroke="#1a1a1a" stroke-width="1.9"/>
<ellipse cx="1126" cy="1078.1" rx="5" ry="6" fill="#e0e0e0" stroke="#1a1a1a" stroke-width="1.9"/>
<ellipse cx="1201.6" cy="1078.1" rx="5" ry="6" fill="#e0e0e0" stroke="#1a1a1a" stroke-width="1.9"/>
<ellipse cx="1088.2" cy="1110.8" rx="5" ry="6" fill="#e0e0e0" stroke="#1a1a1a" stroke-width="1.9"/>
<ellipse cx="1201.6" cy="1143.4" rx="5" ry="6" fill="#e0e0e0" stroke="#1a1a1a" stroke-width="1.9"/>
<ellipse cx="1202.2" cy="1143.4" rx="5" ry="6" fill="#e0e0e0" stroke="#1a1a1a" stroke-width="1.9"/>
<ellipse cx="1255.7" cy="1143.4" rx="5" ry="6" fill="#e0e0e0" stroke="#1a1a1a" stroke-width="1.9"/>
<ellipse cx="1174.6" cy="1176" rx="5" ry="6" fill="#e0e0e0" stroke="#1a1a1a" stroke-width="1.9"/>
<ellipse cx="1185.4" cy="1176" rx="5" ry="6" fill="#e0e0e0" stroke="#1a1a1a" stroke-width="1.9"/>
<ellipse cx="1196.2" cy="1176" rx="5" ry="6" fill="#e0e0e0" stroke="#1a1a1a" stroke-width="1.9"/>
<ellipse cx="1228.7" cy="1176" rx="5" ry="6" fill="#e0e0e0" stroke="#1a1a1a" stroke-width="1.9"/>
<ellipse cx="1239.5" cy="1176" rx="5" ry="6" fill="#e0e0e0" stroke="#1a1a1a" stroke-width="1.9"/>
<ellipse cx="1282.7" cy="1176" rx="5" ry="6" fill="#e0e0e0" stroke="#1a1a1a" stroke-width="1.9"/>
<ellipse cx="1304.3" cy="1176" rx="5" ry="6" fill="#e0e0e0" stroke="#1a1a1a" stroke-width="1.9"/>
<ellipse cx="1315.1" cy="1176" rx="5" ry="6" fill="#e0e0e0" stroke="#1a1a1a" stroke-width="1.9"/>
<ellipse cx="1347.6" cy="1176" rx="5" ry="6" fill="#e0e0e0" stroke="#1a1a1a" stroke-width="1.9"/>
<ellipse cx="1158.4" cy="1208.7" rx="5" ry="6" fill="#e0e0e0" stroke="#1a1a1a" stroke-width="1.9"/>
<ellipse cx="1159" cy="1208.7" rx="5" ry="6" fill="#e0e0e0" stroke="#1a1a1a" stroke-width="1.9"/>
<ellipse cx="1223.3" cy="1208.7" rx="5" ry="6" fill="#e0e0e0" stroke="#1a1a1a" stroke-width="1.9"/>
<ellipse cx="1288.1" cy="1208.7" rx="5" ry="6" fill="#e0e0e0" stroke="#1a1a1a" stroke-width="1.9"/>
<ellipse cx="1120.6" cy="1241.3" rx="4.7" ry="5.6" fill="#e23a3a" stroke="#a82424" stroke-width="1.4"/>
<ellipse cx="1153" cy="1241.3" rx="4.7" ry="5.6" fill="#e23a3a" stroke="#a82424" stroke-width="1.4"/>
<ellipse cx="1163.8" cy="1241.3" rx="4.7" ry="5.6" fill="#e23a3a" stroke="#a82424" stroke-width="1.4"/>
<ellipse cx="1174.6" cy="1241.3" rx="4.7" ry="5.6" fill="#e23a3a" stroke="#a82424" stroke-width="1.4"/>
<ellipse cx="1207.1" cy="1241.3" rx="4.7" ry="5.6" fill="#e23a3a" stroke="#a82424" stroke-width="1.4"/>
<ellipse cx="1228.7" cy="1241.3" rx="4.7" ry="5.6" fill="#e23a3a" stroke="#a82424" stroke-width="1.4"/>
<ellipse cx="1261.1" cy="1241.3" rx="4.7" ry="5.6" fill="#e23a3a" stroke="#a82424" stroke-width="1.4"/>
<ellipse cx="1282.7" cy="1241.3" rx="4.7" ry="5.6" fill="#e23a3a" stroke="#a82424" stroke-width="1.4"/>
<ellipse cx="1336.7" cy="1241.3" rx="4.7" ry="5.6" fill="#e23a3a" stroke="#a82424" stroke-width="1.4"/>
<ellipse cx="1050.3" cy="1273.9" rx="5" ry="6" fill="#e0e0e0" stroke="#1a1a1a" stroke-width="1.9"/>
<ellipse cx="1234.1" cy="1273.9" rx="5" ry="6" fill="#e0e0e0" stroke="#1a1a1a" stroke-width="1.9"/>
<ellipse cx="1266.5" cy="1273.9" rx="5" ry="6" fill="#e0e0e0" stroke="#1a1a1a" stroke-width="1.9"/>
<ellipse cx="1277.3" cy="1273.9" rx="5" ry="6" fill="#e0e0e0" stroke="#1a1a1a" stroke-width="1.9"/>
<ellipse cx="1417.8" cy="1273.9" rx="5" ry="6" fill="#e0e0e0" stroke="#1a1a1a" stroke-width="1.9"/>
<ellipse cx="1228.7" cy="1306.6" rx="5" ry="6" fill="#e0e0e0" stroke="#1a1a1a" stroke-width="1.9"/>
<ellipse cx="1261.1" cy="1306.6" rx="5" ry="6" fill="#e0e0e0" stroke="#1a1a1a" stroke-width="1.9"/>
<ellipse cx="1261.6" cy="1306.6" rx="5" ry="6" fill="#e0e0e0" stroke="#1a1a1a" stroke-width="1.9"/>
<ellipse cx="1244.9" cy="1339.2" rx="5" ry="6" fill="#e0e0e0" stroke="#1a1a1a" stroke-width="1.9"/>
<ellipse cx="1277.3" cy="1339.2" rx="5" ry="6" fill="#e0e0e0" stroke="#1a1a1a" stroke-width="1.9"/>
<ellipse cx="1401.6" cy="1371.8" rx="5" ry="6" fill="#e0e0e0" stroke="#1a1a1a" stroke-width="1.9"/>
<ellipse cx="1255.7" cy="1404.5" rx="5" ry="6" fill="#e0e0e0" stroke="#1a1a1a" stroke-width="1.9"/>
<ellipse cx="1256.2" cy="1404.5" rx="5" ry="6" fill="#e0e0e0" stroke="#1a1a1a" stroke-width="1.9"/>
<ellipse cx="1239.5" cy="1567.6" rx="5" ry="6" fill="#e0e0e0" stroke="#1a1a1a" stroke-width="1.9"/>
<line x1="965.6" y1="1045" x2="1685.5" y2="1045" stroke="#5c5cf0" stroke-width="5.3"/>
<line x1="965.6" y1="1241.2" x2="1685.5" y2="1241.2" stroke="#e5282c" stroke-width="5.3"/>
<line x1="965.6" y1="1435.7" x2="1685.5" y2="1435.7" stroke="#5c5cf0" stroke-width="5.3"/>
</g>
<line x1="965.6" y1="840.8" x2="965.6" y2="1568.8" stroke="#6a6a6e" stroke-width="3.6"/>
<line x1="1685.5" y1="840.8" x2="1685.5" y2="1568.8" stroke="#6a6a6e" stroke-width="3.6"/>
<line x1="963.8" y1="842" x2="1687.3" y2="842" stroke="#3a3a3a" stroke-width="2.4"/>
<line x1="963.8" y1="1567.6" x2="1687.3" y2="1567.6" stroke="#2e2e2e" stroke-width="2.4"/>
<line x1="956.6" y1="915" x2="965.6" y2="915" stroke="#3a3a3a" stroke-width="1.6"/>
<text x="956.1" y="924.6" font-family="'Liberation Sans', Arial, sans-serif" font-size="17.5" fill="#1a1a1a" text-anchor="end" font-weight="normal" textLength="36" lengthAdjust="spacingAndGlyphs">10.00</text>
<line x1="956.6" y1="1078.1" x2="965.6" y2="1078.1" stroke="#3a3a3a" stroke-width="1.6"/>
<text x="956.1" y="1087.7" font-family="'Liberation Sans', Arial, sans-serif" font-size="17.5" fill="#1a1a1a" text-anchor="end" font-weight="normal" textLength="29" lengthAdjust="spacingAndGlyphs">5.00</text>
<line x1="956.6" y1="1241.3" x2="965.6" y2="1241.3" stroke="#3a3a3a" stroke-width="1.6"/>
<text x="956.1" y="1250.9" font-family="'Liberation Sans', Arial, sans-serif" font-size="17.5" fill="#1a1a1a" text-anchor="end" font-weight="normal" textLength="20" lengthAdjust="spacingAndGlyphs">.00</text>
<line x1="956.6" y1="1404.5" x2="965.6" y2="1404.5" stroke="#3a3a3a" stroke-width="1.6"/>
<text x="956.1" y="1414" font-family="'Liberation Sans', Arial, sans-serif" font-size="17.5" fill="#1a1a1a" text-anchor="end" font-weight="normal" textLength="31" lengthAdjust="spacingAndGlyphs">-5.00</text>
<line x1="956.6" y1="1567.6" x2="965.6" y2="1567.6" stroke="#3a3a3a" stroke-width="1.6"/>
<text x="956.1" y="1577.2" font-family="'Liberation Sans', Arial, sans-serif" font-size="17.5" fill="#1a1a1a" text-anchor="end" font-weight="normal" textLength="39" lengthAdjust="spacingAndGlyphs">-10.00</text>
<line x1="1001.7" y1="1567.6" x2="1001.7" y2="1578.6" stroke="#3a3a3a" stroke-width="1.6"/>
<text x="1001.7" y="1596.7" font-family="'Liberation Sans', Arial, sans-serif" font-size="17.5" fill="#1a1a1a" text-anchor="middle" font-weight="normal" textLength="34" lengthAdjust="spacingAndGlyphs">10.00</text>
<line x1="1109.8" y1="1567.6" x2="1109.8" y2="1578.6" stroke="#3a3a3a" stroke-width="1.6"/>
<text x="1109.8" y="1596.7" font-family="'Liberation Sans', Arial, sans-serif" font-size="17.5" fill="#1a1a1a" text-anchor="middle" font-weight="normal" textLength="34" lengthAdjust="spacingAndGlyphs">20.00</text>
<line x1="1217.9" y1="1567.6" x2="1217.9" y2="1578.6" stroke="#3a3a3a" stroke-width="1.6"/>
<text x="1217.9" y="1596.7" font-family="'Liberation Sans', Arial, sans-serif" font-size="17.5" fill="#1a1a1a" text-anchor="middle" font-weight="normal" textLength="34" lengthAdjust="spacingAndGlyphs">30.00</text>
<line x1="1325.9" y1="1567.6" x2="1325.9" y2="1578.6" stroke="#3a3a3a" stroke-width="1.6"/>
<text x="1325.9" y="1596.7" font-family="'Liberation Sans', Arial, sans-serif" font-size="17.5" fill="#1a1a1a" text-anchor="middle" font-weight="normal" textLength="34" lengthAdjust="spacingAndGlyphs">40.00</text>
<line x1="1434" y1="1567.6" x2="1434" y2="1578.6" stroke="#3a3a3a" stroke-width="1.6"/>
<text x="1434" y="1596.7" font-family="'Liberation Sans', Arial, sans-serif" font-size="17.5" fill="#1a1a1a" text-anchor="middle" font-weight="normal" textLength="34" lengthAdjust="spacingAndGlyphs">50.00</text>
<line x1="1542.1" y1="1567.6" x2="1542.1" y2="1578.6" stroke="#3a3a3a" stroke-width="1.6"/>
<text x="1542.1" y="1596.7" font-family="'Liberation Sans', Arial, sans-serif" font-size="17.5" fill="#1a1a1a" text-anchor="middle" font-weight="normal" textLength="34" lengthAdjust="spacingAndGlyphs">60.00</text>
<line x1="1650.2" y1="1567.6" x2="1650.2" y2="1578.6" stroke="#3a3a3a" stroke-width="1.6"/>
<text x="1650.2" y="1596.7" font-family="'Liberation Sans', Arial, sans-serif" font-size="17.5" fill="#1a1a1a" text-anchor="middle" font-weight="normal" textLength="34" lengthAdjust="spacingAndGlyphs">70.00</text>
<text x="1539.6" y="1018.6" font-family="'Liberation Sans', Arial, sans-serif" font-size="24.5" fill="#1a1a1a" text-anchor="start" font-weight="normal" textLength="80.3" lengthAdjust="spacingAndGlyphs">+1.96 SD</text>
<text x="1557.3" y="1216" font-family="'Liberation Sans', Arial, sans-serif" font-size="24.5" fill="#1a1a1a" text-anchor="start" font-weight="normal" textLength="61.7" lengthAdjust="spacingAndGlyphs">M=0.04</text>
<text x="1548.7" y="1474" font-family="'Liberation Sans', Arial, sans-serif" font-size="24.5" fill="#1a1a1a" text-anchor="start" font-weight="normal" textLength="76.4" lengthAdjust="spacingAndGlyphs">-1.96 SD</text>
<ellipse cx="1228.7" cy="1435.7" rx="5" ry="6" fill="#9a9af0" stroke="#4a4ad8" stroke-width="1.6"/>
<ellipse cx="1552.9" cy="1435.7" rx="5" ry="6" fill="#9a9af0" stroke="#4a4ad8" stroke-width="1.6"/>
<text x="1109.3" y="1647" font-family="'Liberation Serif', 'Times New Roman', serif" font-size="35.5" fill="#111" text-anchor="start" font-weight="bold" textLength="462.9" lengthAdjust="spacingAndGlyphs">M_ ECHO CMR bulbus (mm)</text>
<text transform="translate(899.5 1380.8) rotate(-90)" x="0" y="0" font-family="'Liberation Serif', 'Times New Roman', serif" font-size="35" fill="#111" font-weight="bold" textLength="366.2" lengthAdjust="spacingAndGlyphs">difference ECHO CMR</text>
<line x1="119.9" y1="2248.9" x2="815.9" y2="2248.9" stroke="#cfd4e2" stroke-width="1.5"/>
<line x1="119.9" y1="2139.9" x2="815.9" y2="2139.9" stroke="#cfd4e2" stroke-width="1.5"/>
<line x1="119.9" y1="2030.9" x2="815.9" y2="2030.9" stroke="#cfd4e2" stroke-width="1.5"/>
<line x1="119.9" y1="1921.9" x2="815.9" y2="1921.9" stroke="#cfd4e2" stroke-width="1.5"/>
<line x1="119.9" y1="1812.9" x2="815.9" y2="1812.9" stroke="#cfd4e2" stroke-width="1.5"/>
<line x1="119.9" y1="1703.9" x2="815.9" y2="1703.9" stroke="#cfd4e2" stroke-width="1.5"/>
<line x1="259.1" y1="1703.9" x2="259.1" y2="2357.9" stroke="#cfd4e2" stroke-width="1.5"/>
<line x1="398.3" y1="1703.9" x2="398.3" y2="2357.9" stroke="#cfd4e2" stroke-width="1.5"/>
<line x1="537.5" y1="1703.9" x2="537.5" y2="2357.9" stroke="#cfd4e2" stroke-width="1.5"/>
<line x1="676.7" y1="1703.9" x2="676.7" y2="2357.9" stroke="#cfd4e2" stroke-width="1.5"/>
<line x1="815.9" y1="1703.9" x2="815.9" y2="2357.9" stroke="#cfd4e2" stroke-width="1.5"/>
<line x1="119.9" y1="2357.9" x2="815.9" y2="2357.9" stroke="#bfc4d4" stroke-width="1.5"/>
<line x1="119.9" y1="1703.9" x2="119.9" y2="2357.9" stroke="#9aa1b8" stroke-width="1.5"/>
<text x="93.2" y="2368.6" font-family="'Liberation Sans', Arial, sans-serif" font-size="32.4" fill="#2c3658" text-anchor="end" font-weight="normal" textLength="16.4" lengthAdjust="spacingAndGlyphs">0</text>
<text x="93.2" y="2259.6" font-family="'Liberation Sans', Arial, sans-serif" font-size="32.4" fill="#2c3658" text-anchor="end" font-weight="normal" textLength="32.8" lengthAdjust="spacingAndGlyphs">10</text>
<text x="93.2" y="2150.6" font-family="'Liberation Sans', Arial, sans-serif" font-size="32.4" fill="#2c3658" text-anchor="end" font-weight="normal" textLength="32.8" lengthAdjust="spacingAndGlyphs">20</text>
<text x="93.2" y="2041.6" font-family="'Liberation Sans', Arial, sans-serif" font-size="32.4" fill="#2c3658" text-anchor="end" font-weight="normal" textLength="32.8" lengthAdjust="spacingAndGlyphs">30</text>
<text x="93.2" y="1932.6" font-family="'Liberation Sans', Arial, sans-serif" font-size="32.4" fill="#2c3658" text-anchor="end" font-weight="normal" textLength="32.8" lengthAdjust="spacingAndGlyphs">40</text>
<text x="93.2" y="1823.6" font-family="'Liberation Sans', Arial, sans-serif" font-size="32.4" fill="#2c3658" text-anchor="end" font-weight="normal" textLength="32.8" lengthAdjust="spacingAndGlyphs">50</text>
<text x="93.2" y="1714.6" font-family="'Liberation Sans', Arial, sans-serif" font-size="32.4" fill="#2c3658" text-anchor="end" font-weight="normal" textLength="32.8" lengthAdjust="spacingAndGlyphs">60</text>
<text x="119.9" y="2410.3" font-family="'Liberation Sans', Arial, sans-serif" font-size="32.4" fill="#2c3658" text-anchor="middle" font-weight="normal" textLength="16.4" lengthAdjust="spacingAndGlyphs">0</text>
<text x="259.1" y="2410.3" font-family="'Liberation Sans', Arial, sans-serif" font-size="32.4" fill="#2c3658" text-anchor="middle" font-weight="normal" textLength="32.8" lengthAdjust="spacingAndGlyphs">10</text>
<text x="398.3" y="2410.3" font-family="'Liberation Sans', Arial, sans-serif" font-size="32.4" fill="#2c3658" text-anchor="middle" font-weight="normal" textLength="32.8" lengthAdjust="spacingAndGlyphs">20</text>
<text x="537.5" y="2410.3" font-family="'Liberation Sans', Arial, sans-serif" font-size="32.4" fill="#2c3658" text-anchor="middle" font-weight="normal" textLength="32.8" lengthAdjust="spacingAndGlyphs">30</text>
<text x="676.7" y="2410.3" font-family="'Liberation Sans', Arial, sans-serif" font-size="32.4" fill="#2c3658" text-anchor="middle" font-weight="normal" textLength="32.8" lengthAdjust="spacingAndGlyphs">40</text>
<text x="815.9" y="2410.3" font-family="'Liberation Sans', Arial, sans-serif" font-size="32.4" fill="#2c3658" text-anchor="middle" font-weight="normal" textLength="32.8" lengthAdjust="spacingAndGlyphs">50</text>
<line x1="259.1" y1="2185.5" x2="746.3" y2="1926.6" stroke="#d62a2e" stroke-width="3" stroke-linecap="round"/>
<ellipse cx="259.1" cy="2227.1" rx="6.6" ry="7.3" fill="#4a89d0" stroke="none" stroke-width="0"/>
<ellipse cx="328.7" cy="2107.2" rx="6.6" ry="7.3" fill="#4a89d0" stroke="none" stroke-width="0"/>
<ellipse cx="356.5" cy="2085.4" rx="6.6" ry="7.3" fill="#4a89d0" stroke="none" stroke-width="0"/>
<ellipse cx="370.5" cy="2139.9" rx="6.6" ry="7.3" fill="#4a89d0" stroke="none" stroke-width="0"/>
<ellipse cx="384.4" cy="2118.1" rx="6.6" ry="7.3" fill="#4a89d0" stroke="none" stroke-width="0"/>
<ellipse cx="384.4" cy="2150.8" rx="6.6" ry="7.3" fill="#4a89d0" stroke="none" stroke-width="0"/>
<ellipse cx="384.4" cy="2161.7" rx="6.6" ry="7.3" fill="#4a89d0" stroke="none" stroke-width="0"/>
<ellipse cx="384.4" cy="2172.6" rx="6.6" ry="7.3" fill="#4a89d0" stroke="none" stroke-width="0"/>
<ellipse cx="398.3" cy="2172.6" rx="6.6" ry="7.3" fill="#4a89d0" stroke="none" stroke-width="0"/>
<ellipse cx="426.1" cy="1834.7" rx="6.6" ry="7.3" fill="#4a89d0" stroke="none" stroke-width="0"/>
<ellipse cx="426.1" cy="2107.2" rx="6.6" ry="7.3" fill="#4a89d0" stroke="none" stroke-width="0"/>
<ellipse cx="426.1" cy="2129" rx="6.6" ry="7.3" fill="#4a89d0" stroke="none" stroke-width="0"/>
<ellipse cx="440.1" cy="2085.4" rx="6.6" ry="7.3" fill="#4a89d0" stroke="none" stroke-width="0"/>
<ellipse cx="440.1" cy="2096.3" rx="6.6" ry="7.3" fill="#4a89d0" stroke="none" stroke-width="0"/>
<ellipse cx="440.1" cy="2107.2" rx="6.6" ry="7.3" fill="#4a89d0" stroke="none" stroke-width="0"/>
<ellipse cx="454" cy="2085.4" rx="6.6" ry="7.3" fill="#4a89d0" stroke="none" stroke-width="0"/>
<ellipse cx="454" cy="2096.3" rx="6.6" ry="7.3" fill="#4a89d0" stroke="none" stroke-width="0"/>
<ellipse cx="467.9" cy="2009.1" rx="6.6" ry="7.3" fill="#4a89d0" stroke="none" stroke-width="0"/>
<ellipse cx="467.9" cy="2020" rx="6.6" ry="7.3" fill="#4a89d0" stroke="none" stroke-width="0"/>
<ellipse cx="467.9" cy="2030.9" rx="6.6" ry="7.3" fill="#4a89d0" stroke="none" stroke-width="0"/>
<ellipse cx="467.9" cy="2063.6" rx="6.6" ry="7.3" fill="#4a89d0" stroke="none" stroke-width="0"/>
<ellipse cx="467.9" cy="2074.5" rx="6.6" ry="7.3" fill="#4a89d0" stroke="none" stroke-width="0"/>
<ellipse cx="467.9" cy="2096.3" rx="6.6" ry="7.3" fill="#4a89d0" stroke="none" stroke-width="0"/>
<ellipse cx="481.8" cy="2052.7" rx="6.6" ry="7.3" fill="#4a89d0" stroke="none" stroke-width="0"/>
<ellipse cx="481.8" cy="2074.5" rx="6.6" ry="7.3" fill="#4a89d0" stroke="none" stroke-width="0"/>
<ellipse cx="481.8" cy="2096.3" rx="6.6" ry="7.3" fill="#4a89d0" stroke="none" stroke-width="0"/>
<ellipse cx="495.7" cy="2063.6" rx="6.6" ry="7.3" fill="#4a89d0" stroke="none" stroke-width="0"/>
<ellipse cx="509.7" cy="2030.9" rx="6.6" ry="7.3" fill="#4a89d0" stroke="none" stroke-width="0"/>
<ellipse cx="509.7" cy="2129" rx="6.6" ry="7.3" fill="#4a89d0" stroke="none" stroke-width="0"/>
<ellipse cx="523.6" cy="2009.1" rx="6.6" ry="7.3" fill="#4a89d0" stroke="none" stroke-width="0"/>
<ellipse cx="523.6" cy="2041.8" rx="6.6" ry="7.3" fill="#4a89d0" stroke="none" stroke-width="0"/>
<ellipse cx="523.6" cy="2052.7" rx="6.6" ry="7.3" fill="#4a89d0" stroke="none" stroke-width="0"/>
<ellipse cx="537.5" cy="1976.4" rx="6.6" ry="7.3" fill="#4a89d0" stroke="none" stroke-width="0"/>
<ellipse cx="551.4" cy="2030.9" rx="6.6" ry="7.3" fill="#4a89d0" stroke="none" stroke-width="0"/>
<ellipse cx="579.3" cy="1976.4" rx="6.6" ry="7.3" fill="#4a89d0" stroke="none" stroke-width="0"/>
<ellipse cx="579.3" cy="2020" rx="6.6" ry="7.3" fill="#4a89d0" stroke="none" stroke-width="0"/>
<ellipse cx="579.3" cy="2150.8" rx="6.6" ry="7.3" fill="#4a89d0" stroke="none" stroke-width="0"/>
<ellipse cx="607.1" cy="1998.2" rx="6.6" ry="7.3" fill="#4a89d0" stroke="none" stroke-width="0"/>
<ellipse cx="607.1" cy="2205.3" rx="6.6" ry="7.3" fill="#4a89d0" stroke="none" stroke-width="0"/>
<ellipse cx="621" cy="2009.1" rx="6.6" ry="7.3" fill="#4a89d0" stroke="none" stroke-width="0"/>
<ellipse cx="634.9" cy="1954.6" rx="6.6" ry="7.3" fill="#4a89d0" stroke="none" stroke-width="0"/>
<ellipse cx="634.9" cy="2009.1" rx="6.6" ry="7.3" fill="#4a89d0" stroke="none" stroke-width="0"/>
<ellipse cx="634.9" cy="2030.9" rx="6.6" ry="7.3" fill="#4a89d0" stroke="none" stroke-width="0"/>
<ellipse cx="662.8" cy="1911" rx="6.6" ry="7.3" fill="#4a89d0" stroke="none" stroke-width="0"/>
<ellipse cx="676.7" cy="1932.8" rx="6.6" ry="7.3" fill="#4a89d0" stroke="none" stroke-width="0"/>
<ellipse cx="690.6" cy="1867.4" rx="6.6" ry="7.3" fill="#4a89d0" stroke="none" stroke-width="0"/>
<ellipse cx="746.3" cy="1921.9" rx="6.6" ry="7.3" fill="#4a89d0" stroke="none" stroke-width="0"/>
<line x1="259.1" y1="2185.5" x2="746.3" y2="1926.6" stroke="#d62a2e" stroke-width="3" stroke-linecap="round"/>
<text x="549.5" y="2265.2" font-family="'Liberation Sans', Arial, sans-serif" font-size="32.5" fill="#2a3050" text-anchor="start" font-weight="normal" textLength="252.9" lengthAdjust="spacingAndGlyphs">y = 0.6787x + 9.0276</text>
<text x="606" y="2304.6" font-family="'Liberation Sans', Arial, sans-serif" font-size="32.5" fill="#2a3050" text-anchor="start" font-weight="normal" textLength="138" lengthAdjust="spacingAndGlyphs">R² = 0.4327</text>
<text x="333.8" y="2458.2" font-family="'Liberation Serif', 'Times New Roman', serif" font-size="35.5" fill="#111" text-anchor="start" font-weight="bold" textLength="280.7" lengthAdjust="spacingAndGlyphs">CMR AoAsc (mm)</text>
<text transform="translate(36.8 2235.5) rotate(-90)" x="0" y="0" font-family="'Liberation Serif', 'Times New Roman', serif" font-size="35.5" fill="#111" font-weight="bold" textLength="294" lengthAdjust="spacingAndGlyphs">ECHO AoAsc (mm)</text>
<rect x="969.3" y="1679.8" width="745.2" height="723" fill="#f1f1f1" stroke="none"/>
<clipPath id="cF"><rect x="969.3" y="1679.8" width="745.2" height="723"/></clipPath>
<g clip-path="url(#cF)">
<ellipse cx="1249.3" cy="1851.4" rx="5" ry="6" fill="#e0e0e0" stroke="#1a1a1a" stroke-width="1.9"/>
<ellipse cx="1274.4" cy="1927" rx="5" ry="6" fill="#e0e0e0" stroke="#1a1a1a" stroke-width="1.9"/>
<ellipse cx="1249.3" cy="2002.6" rx="5" ry="6" fill="#e0e0e0" stroke="#1a1a1a" stroke-width="1.9"/>
<ellipse cx="1400.4" cy="2002.6" rx="5" ry="6" fill="#e0e0e0" stroke="#1a1a1a" stroke-width="1.9"/>
<ellipse cx="1417.2" cy="2024.2" rx="5" ry="6" fill="#e0e0e0" stroke="#1a1a1a" stroke-width="1.9"/>
<ellipse cx="1551.5" cy="2024.2" rx="5" ry="6" fill="#e0e0e0" stroke="#1a1a1a" stroke-width="1.9"/>
<ellipse cx="1408.8" cy="2035" rx="5" ry="6" fill="#e0e0e0" stroke="#1a1a1a" stroke-width="1.9"/>
<ellipse cx="1148.5" cy="2045.8" rx="5" ry="6" fill="#e0e0e0" stroke="#1a1a1a" stroke-width="1.9"/>
<ellipse cx="1140.1" cy="2056.6" rx="5" ry="6" fill="#e0e0e0" stroke="#1a1a1a" stroke-width="1.9"/>
<ellipse cx="1257.6" cy="2056.6" rx="5" ry="6" fill="#e0e0e0" stroke="#1a1a1a" stroke-width="1.9"/>
<ellipse cx="1375.2" cy="2056.6" rx="5" ry="6" fill="#e0e0e0" stroke="#1a1a1a" stroke-width="1.9"/>
<ellipse cx="1408.8" cy="2056.6" rx="5" ry="6" fill="#e0e0e0" stroke="#1a1a1a" stroke-width="1.9"/>
<ellipse cx="1148.5" cy="2067.4" rx="5" ry="6" fill="#e0e0e0" stroke="#1a1a1a" stroke-width="1.9"/>
<ellipse cx="1198.9" cy="2067.4" rx="5" ry="6" fill="#e0e0e0" stroke="#1a1a1a" stroke-width="1.9"/>
<ellipse cx="1249.3" cy="2067.4" rx="5" ry="6" fill="#e0e0e0" stroke="#1a1a1a" stroke-width="1.9"/>
<ellipse cx="1316.4" cy="2067.4" rx="5" ry="6" fill="#e0e0e0" stroke="#1a1a1a" stroke-width="1.9"/>
<ellipse cx="1350" cy="2067.4" rx="5" ry="6" fill="#e0e0e0" stroke="#1a1a1a" stroke-width="1.9"/>
<ellipse cx="1501.1" cy="2067.4" rx="5" ry="6" fill="#e0e0e0" stroke="#1a1a1a" stroke-width="1.9"/>
<ellipse cx="1156.9" cy="2078.2" rx="5" ry="6" fill="#e0e0e0" stroke="#1a1a1a" stroke-width="1.9"/>
<ellipse cx="1224.1" cy="2078.2" rx="5" ry="6" fill="#e0e0e0" stroke="#1a1a1a" stroke-width="1.9"/>
<ellipse cx="1240.9" cy="2078.2" rx="5" ry="6" fill="#e0e0e0" stroke="#1a1a1a" stroke-width="1.9"/>
<ellipse cx="1274.4" cy="2078.2" rx="5" ry="6" fill="#e0e0e0" stroke="#1a1a1a" stroke-width="1.9"/>
<ellipse cx="1291.2" cy="2078.2" rx="5" ry="6" fill="#e0e0e0" stroke="#1a1a1a" stroke-width="1.9"/>
<ellipse cx="1324.8" cy="2078.2" rx="5" ry="6" fill="#e0e0e0" stroke="#1a1a1a" stroke-width="1.9"/>
<ellipse cx="1459.1" cy="2078.2" rx="5" ry="6" fill="#e0e0e0" stroke="#1a1a1a" stroke-width="1.9"/>
<ellipse cx="1215.7" cy="2089" rx="5" ry="6" fill="#e0e0e0" stroke="#1a1a1a" stroke-width="1.9"/>
<ellipse cx="1232.5" cy="2089" rx="5" ry="6" fill="#e0e0e0" stroke="#1a1a1a" stroke-width="1.9"/>
<ellipse cx="1249.3" cy="2089" rx="5" ry="6" fill="#e0e0e0" stroke="#1a1a1a" stroke-width="1.9"/>
<ellipse cx="1250.1" cy="2089" rx="5" ry="6" fill="#e0e0e0" stroke="#1a1a1a" stroke-width="1.9"/>
<ellipse cx="1266" cy="2089" rx="5" ry="6" fill="#e0e0e0" stroke="#1a1a1a" stroke-width="1.9"/>
<ellipse cx="1022.6" cy="2099.8" rx="5" ry="6" fill="#e0e0e0" stroke="#1a1a1a" stroke-width="1.9"/>
<ellipse cx="1156.9" cy="2099.8" rx="5" ry="6" fill="#e0e0e0" stroke="#1a1a1a" stroke-width="1.9"/>
<ellipse cx="1240.9" cy="2099.8" rx="5" ry="6" fill="#e0e0e0" stroke="#1a1a1a" stroke-width="1.9"/>
<ellipse cx="1274.4" cy="2099.8" rx="5" ry="6" fill="#e0e0e0" stroke="#1a1a1a" stroke-width="1.9"/>
<ellipse cx="1291.2" cy="2099.8" rx="5" ry="6" fill="#e0e0e0" stroke="#1a1a1a" stroke-width="1.9"/>
<ellipse cx="1324.8" cy="2099.8" rx="5" ry="6" fill="#e0e0e0" stroke="#1a1a1a" stroke-width="1.9"/>
<ellipse cx="1408.8" cy="2099.8" rx="5" ry="6" fill="#e0e0e0" stroke="#1a1a1a" stroke-width="1.9"/>
<ellipse cx="1509.5" cy="2099.8" rx="5" ry="6" fill="#e0e0e0" stroke="#1a1a1a" stroke-width="1.9"/>
<ellipse cx="1182.1" cy="2110.6" rx="5" ry="6" fill="#e0e0e0" stroke="#1a1a1a" stroke-width="1.9"/>
<ellipse cx="1350" cy="2110.6" rx="5" ry="6" fill="#e0e0e0" stroke="#1a1a1a" stroke-width="1.9"/>
<ellipse cx="1559.9" cy="2121.4" rx="5" ry="6" fill="#e0e0e0" stroke="#1a1a1a" stroke-width="1.9"/>
<ellipse cx="1299.6" cy="2132.2" rx="5" ry="6" fill="#e0e0e0" stroke="#1a1a1a" stroke-width="1.9"/>
<ellipse cx="1383.6" cy="2132.2" rx="5" ry="6" fill="#e0e0e0" stroke="#1a1a1a" stroke-width="1.9"/>
<ellipse cx="1308" cy="2143" rx="5" ry="6" fill="#e0e0e0" stroke="#1a1a1a" stroke-width="1.9"/>
<ellipse cx="1316.4" cy="2153.8" rx="5" ry="6" fill="#e0e0e0" stroke="#1a1a1a" stroke-width="1.9"/>
<ellipse cx="1156.9" cy="2164.6" rx="5" ry="6" fill="#e0e0e0" stroke="#1a1a1a" stroke-width="1.9"/>
<ellipse cx="1190.5" cy="2164.6" rx="5" ry="6" fill="#e0e0e0" stroke="#1a1a1a" stroke-width="1.9"/>
<ellipse cx="1425.5" cy="2359" rx="5" ry="6" fill="#e0e0e0" stroke="#1a1a1a" stroke-width="1.9"/>
<line x1="969.3" y1="1951.7" x2="1714.5" y2="1951.7" stroke="#5c5cf0" stroke-width="5.4"/>
<line x1="969.3" y1="2081.6" x2="1714.5" y2="2081.6" stroke="#e5282c" stroke-width="5.4"/>
<line x1="969.3" y1="2211.9" x2="1714.5" y2="2211.9" stroke="#5c5cf0" stroke-width="5.4"/>
</g>
<line x1="969.3" y1="1678.6" x2="969.3" y2="2404" stroke="#6a6a6e" stroke-width="3.6"/>
<line x1="1714.5" y1="1678.6" x2="1714.5" y2="2404" stroke="#6a6a6e" stroke-width="3.6"/>
<line x1="967.5" y1="1679.8" x2="1716.3" y2="1679.8" stroke="#3a3a3a" stroke-width="2.4"/>
<line x1="967.5" y1="2402.8" x2="1716.3" y2="2402.8" stroke="#2e2e2e" stroke-width="2.4"/>
<line x1="960.3" y1="1754.2" x2="969.3" y2="1754.2" stroke="#3a3a3a" stroke-width="1.6"/>
<text x="959.8" y="1763.8" font-family="'Liberation Sans', Arial, sans-serif" font-size="17.5" fill="#1a1a1a" text-anchor="end" font-weight="normal" textLength="36" lengthAdjust="spacingAndGlyphs">30.00</text>
<line x1="960.3" y1="1862.2" x2="969.3" y2="1862.2" stroke="#3a3a3a" stroke-width="1.6"/>
<text x="959.8" y="1871.8" font-family="'Liberation Sans', Arial, sans-serif" font-size="17.5" fill="#1a1a1a" text-anchor="end" font-weight="normal" textLength="36" lengthAdjust="spacingAndGlyphs">20.00</text>
<line x1="960.3" y1="1970.2" x2="969.3" y2="1970.2" stroke="#3a3a3a" stroke-width="1.6"/>
<text x="959.8" y="1979.8" font-family="'Liberation Sans', Arial, sans-serif" font-size="17.5" fill="#1a1a1a" text-anchor="end" font-weight="normal" textLength="36" lengthAdjust="spacingAndGlyphs">10.00</text>
<line x1="960.3" y1="2078.2" x2="969.3" y2="2078.2" stroke="#3a3a3a" stroke-width="1.6"/>
<text x="959.8" y="2087.8" font-family="'Liberation Sans', Arial, sans-serif" font-size="17.5" fill="#1a1a1a" text-anchor="end" font-weight="normal" textLength="20" lengthAdjust="spacingAndGlyphs">.00</text>
<line x1="960.3" y1="2186.2" x2="969.3" y2="2186.2" stroke="#3a3a3a" stroke-width="1.6"/>
<text x="959.8" y="2195.8" font-family="'Liberation Sans', Arial, sans-serif" font-size="17.5" fill="#1a1a1a" text-anchor="end" font-weight="normal" textLength="40" lengthAdjust="spacingAndGlyphs">-10.00</text>
<line x1="960.3" y1="2294.2" x2="969.3" y2="2294.2" stroke="#3a3a3a" stroke-width="1.6"/>
<text x="959.8" y="2303.8" font-family="'Liberation Sans', Arial, sans-serif" font-size="17.5" fill="#1a1a1a" text-anchor="end" font-weight="normal" textLength="40" lengthAdjust="spacingAndGlyphs">-20.00</text>
<line x1="960.3" y1="2402.2" x2="969.3" y2="2402.2" stroke="#3a3a3a" stroke-width="1.6"/>
<text x="959.8" y="2411.8" font-family="'Liberation Sans', Arial, sans-serif" font-size="17.5" fill="#1a1a1a" text-anchor="end" font-weight="normal" textLength="41" lengthAdjust="spacingAndGlyphs">-30.00</text>
<line x1="1005.8" y1="2402.8" x2="1005.8" y2="2413.8" stroke="#3a3a3a" stroke-width="1.6"/>
<text x="1005.8" y="2433" font-family="'Liberation Sans', Arial, sans-serif" font-size="17.5" fill="#1a1a1a" text-anchor="middle" font-weight="normal" textLength="34" lengthAdjust="spacingAndGlyphs">10.00</text>
<line x1="1173.7" y1="2402.8" x2="1173.7" y2="2413.8" stroke="#3a3a3a" stroke-width="1.6"/>
<text x="1173.7" y="2433" font-family="'Liberation Sans', Arial, sans-serif" font-size="17.5" fill="#1a1a1a" text-anchor="middle" font-weight="normal" textLength="34" lengthAdjust="spacingAndGlyphs">20.00</text>
<line x1="1341.6" y1="2402.8" x2="1341.6" y2="2413.8" stroke="#3a3a3a" stroke-width="1.6"/>
<text x="1341.6" y="2433" font-family="'Liberation Sans', Arial, sans-serif" font-size="17.5" fill="#1a1a1a" text-anchor="middle" font-weight="normal" textLength="34" lengthAdjust="spacingAndGlyphs">30.00</text>
<line x1="1509.5" y1="2402.8" x2="1509.5" y2="2413.8" stroke="#3a3a3a" stroke-width="1.6"/>
<text x="1509.5" y="2433" font-family="'Liberation Sans', Arial, sans-serif" font-size="17.5" fill="#1a1a1a" text-anchor="middle" font-weight="normal" textLength="34" lengthAdjust="spacingAndGlyphs">40.00</text>
<line x1="1677.4" y1="2402.8" x2="1677.4" y2="2413.8" stroke="#3a3a3a" stroke-width="1.6"/>
<text x="1677.4" y="2433" font-family="'Liberation Sans', Arial, sans-serif" font-size="17.5" fill="#1a1a1a" text-anchor="middle" font-weight="normal" textLength="34" lengthAdjust="spacingAndGlyphs">50.00</text>
<text x="1602.2" y="1924" font-family="'Liberation Sans', Arial, sans-serif" font-size="24.5" fill="#1a1a1a" text-anchor="start" font-weight="normal" textLength="82.9" lengthAdjust="spacingAndGlyphs">+1.96 SD</text>
<text x="1621.3" y="2055" font-family="'Liberation Sans', Arial, sans-serif" font-size="24.5" fill="#1a1a1a" text-anchor="start" font-weight="normal" textLength="63.8" lengthAdjust="spacingAndGlyphs">M=-0.34</text>
<text x="1603.3" y="2197" font-family="'Liberation Sans', Arial, sans-serif" font-size="24.5" fill="#1a1a1a" text-anchor="start" font-weight="normal" textLength="81.8" lengthAdjust="spacingAndGlyphs">-1.96 SD</text>
<text x="1138.4" y="2471.7" font-family="'Liberation Serif', 'Times New Roman', serif" font-size="35.5" fill="#111" text-anchor="start" font-weight="bold" textLength="447.2" lengthAdjust="spacingAndGlyphs">M_ECHO CMR AoAsc (mm)</text>
<text transform="translate(900.8 2222.3) rotate(-90)" x="0" y="0" font-family="'Liberation Serif', 'Times New Roman', serif" font-size="35" fill="#111" font-weight="bold" textLength="368.4" lengthAdjust="spacingAndGlyphs">difference ECHO CMR</text>
</svg>
</body></html>
